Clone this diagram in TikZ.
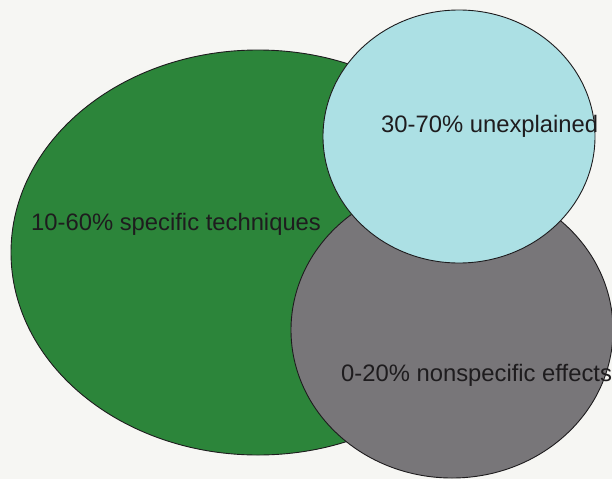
\documentclass[tikz,border=0pt]{standalone}
\usepackage{fontspec}
\setmainfont{Liberation Sans}
\definecolor{paper}{RGB}{246,246,243}
\definecolor{techgreen}{RGB}{44,133,58}
\definecolor{unexcyan}{RGB}{172,224,228}
\definecolor{nonspgrey}{RGB}{120,118,121}
\definecolor{ink}{RGB}{30,28,30}
\tikzset{
  blob/.style={draw=ink, line width=0.9pt},
  share/.style={text=ink, anchor=base west, inner sep=0pt, font=\fontsize{23.8pt}{28pt}\selectfont}
}
\begin{document}
\begin{tikzpicture}[x=1pt,y=-1pt]
\useasboundingbox (0,0) rectangle (612,479);
\clip (0,0) rectangle (612,479);
\fill[paper] (0,0) rectangle (612,479);
\filldraw[blob, fill=techgreen] (258,252.5) ellipse (247 and 202.5);
\filldraw[blob, fill=nonspgrey] (452,330) ellipse (161 and 148);
\filldraw[blob, fill=unexcyan] (459,136.5) ellipse (136 and 126.5);
\node[share] (spec) at (31,230) {10-60\% specific techniques};
\node[share] (unex) at (381,132) {30-70\% unexplained};
\node[share] (nonsp) at (341,381.5) {0-20\% nonspecific effects};
\end{tikzpicture}
\end{document}
